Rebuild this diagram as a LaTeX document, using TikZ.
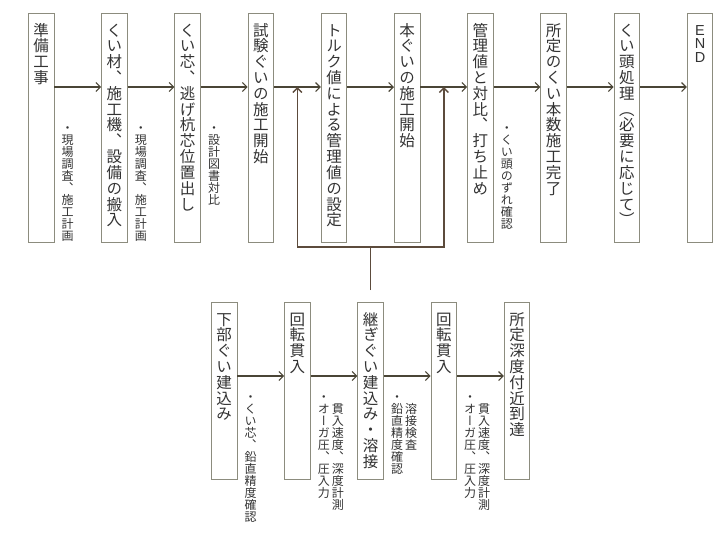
\documentclass[tikz,border=0pt]{standalone}
\usepackage{fontspec}
\newfontfamily\vjp[RawFeature=+vert]{Noto Sans CJK JP}
\newfontfamily\latn{Liberation Sans}
\usepackage{tikz}
\usetikzlibrary{arrows.meta, positioning, calc}

\definecolor{boxc}{HTML}{8C8C7E}
\definecolor{arrc}{HTML}{4A4536}
\definecolor{fbc}{HTML}{5C4B3C}
\definecolor{txtc}{HTML}{333333}

% one character per line, fixed pitch
\ExplSyntaxOn
\NewDocumentCommand{\vcol}{O{1.02em}m}{
  \vtop{\baselineskip=#1 \lineskiplimit=-\maxdimen \lineskip=0pt
    \tl_map_inline:nn {#2}
      {\hbox_to_wd:nn {1em} {\hss \vrule height .88em depth .12em width 0pt ##1 \hss}}}}
\ExplSyntaxOff
% text of a box, from the top
\newcommand{\vtxt}[2]{\vbox to #1{\fontsize{15.5}{18}\vjp\vcol{#2}\vss}}
% small notes: right column first
\newcommand{\vnote}[2]{\fontsize{12}{14}\vjp\hbox{\vcol[12pt]{#2}\kern2pt\vcol[12pt]{#1}}}

\begin{document}
\begin{tikzpicture}[node distance=46.8pt,
    box/.style={draw=boxc, line width=0.9pt, fill=white, text=txtc, inner sep=0pt,
      minimum width=25.5pt, minimum height=229pt},
    lowbox/.style={box, minimum height=177pt},
    note/.style={text=txtc, inner sep=0pt, anchor=north west},
    arr/.style={draw=arrc, line width=1.1pt, -{Straight Barb[length=4.5pt,width=9pt]}},
    fb/.style={draw=fbc, line width=1.4pt},
    fbarr/.style={fb, -{Straight Barb[length=4.5pt,width=9pt]}}]

\useasboundingbox (0pt,0pt) rectangle (720pt,-550pt);

% main flow
\node[box, anchor=north west] (b1) at (28pt,-13pt) {\vtxt{211pt}{準備工事}};
\node[box, right=of b1] (b2) {\vtxt{211pt}{くい材、施工機、設備の搬入}};
\node[box, right=of b2] (b3) {\vtxt{211pt}{くい芯、逃げ杭芯位置出し}};
\node[box, right=of b3] (b4) {\vtxt{211pt}{試験ぐいの施工開始}};
\node[box, right=of b4] (b5) {\vtxt{211pt}{トルク値による管理値の設定}};
\node[box, right=of b5] (b6) {\vtxt{211pt}{本ぐいの施工開始}};
\node[box, right=of b6] (b7) {\vtxt{211pt}{管理値と対比、打ち止め}};
\node[box, right=of b7] (b8) {\vtxt{211pt}{所定のくい本数施工完了}};
\node[box, right=of b8] (b9) {\vtxt{211pt}{くい頭処理（必要に応じて）}};
\node[box, right=of b9] (b10) {\vbox to 211pt{\latn\fontsize{14.5}{13.5}\selectfont
  \baselineskip=13.5pt \lineskiplimit=-\maxdimen \lineskip=0pt
  \kern3pt\hbox to 16pt{\hss E\hss}\hbox to 16pt{\hss N\hss}\hbox to 16pt{\hss D\hss}\vss}};

\foreach \a/\b in {b1/b2, b2/b3, b3/b4, b4/b5, b5/b6, b6/b7, b7/b8, b8/b9, b9/b10}
  \draw[arr] ([yshift=-74pt]\a.north east) -- ([yshift=-74pt]\b.north west);

\node[note] (n1) at ([xshift=7pt,yshift=6pt]b1.east) {\vnote{}{・現場調査、施工計画}};
\node[note] (n2) at ([xshift=7pt,yshift=6pt]b2.east) {\vnote{}{・現場調査、施工計画}};
\node[note] (n3) at ([xshift=7pt,yshift=6pt]b3.east) {\vnote{}{・設計図書対比}};
\node[note] (n7) at ([xshift=7pt,yshift=6pt]b7.east) {\vnote{}{・くい頭のずれ確認}};

% pile driving steps
\node[lowbox, anchor=north west] (k1) at (211pt,-302pt) {\vtxt{159pt}{下部ぐい建込み}};
\node[lowbox, right=of k1] (k2) {\vtxt{159pt}{回転貫入}};
\node[lowbox, right=of k2] (k3) {\vtxt{159pt}{継ぎぐい建込み・溶接}};
\node[lowbox, right=of k3] (k4) {\vtxt{159pt}{回転貫入}};
\node[lowbox, right=of k4] (k5) {\vtxt{159pt}{所定深度付近到達}};

\foreach \a/\b in {k1/k2, k2/k3, k3/k4, k4/k5}
  \draw[arr] ([yshift=-74pt]\a.north east) -- ([yshift=-74pt]\b.north west);

\node[note] (m1) at ([xshift=7pt]k1.east) {\vnote{}{・くい芯、鉛直精度確認}};
\node[note] (m2) at ([xshift=7pt]k2.east) {\vnote{　貫入速度、深度計測}{・オーガ圧、圧入力}};
\node[note] (m3) at ([xshift=7pt]k3.east) {\vnote{　溶接検査}{・鉛直精度確認}};
\node[note] (m4) at ([xshift=7pt]k4.east) {\vnote{　貫入速度、深度計測}{・オーガ圧、圧入力}};

% return to the main flow
\coordinate (j) at ([yshift=55pt]k3.north);
\coordinate (t45) at ($([yshift=-74pt]b4.north east)!0.5!([yshift=-74pt]b5.north west)$);
\coordinate (t67) at ($([yshift=-74pt]b6.north east)!0.5!([yshift=-74pt]b7.north west)$);
\draw[fb] ([yshift=12pt]k3.north) -- (j);
\draw[fbarr] (j) -| (t45);
\draw[fbarr] (j) -| (t67);

\end{tikzpicture}
\end{document}
